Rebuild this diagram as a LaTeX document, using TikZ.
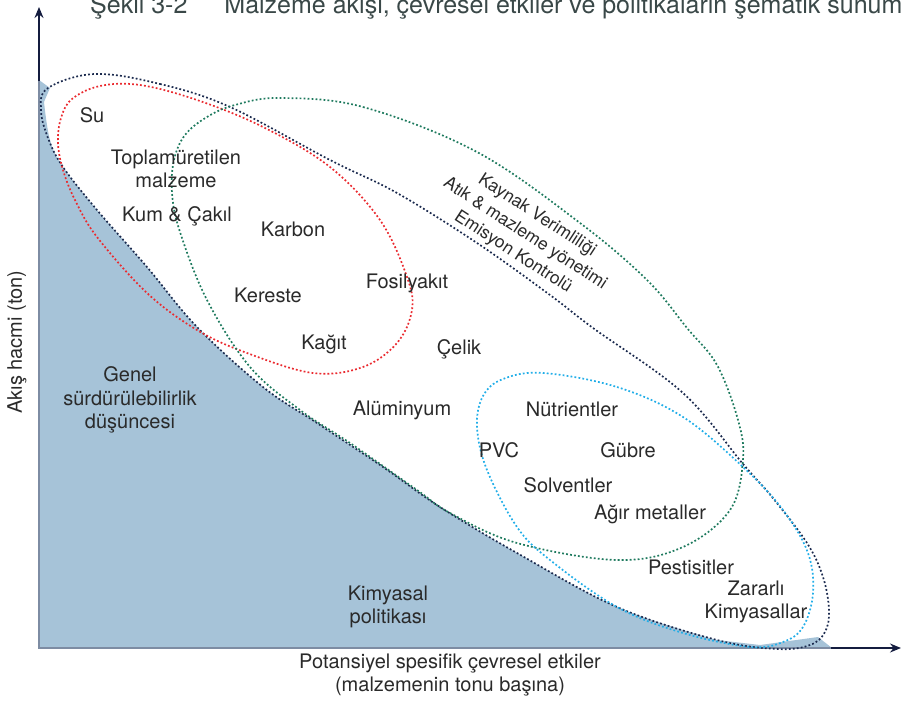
\documentclass[tikz,border=0pt]{standalone}
\usepackage{fontspec}
\setmainfont{TeX Gyre Heros}
\usetikzlibrary{arrows.meta}

\definecolor{fillblue}{HTML}{A6C3D8}
\definecolor{axisnavy}{HTML}{141C3F}
\definecolor{axisgray}{HTML}{7D8CA3}
\definecolor{navyline}{HTML}{1B2A4E}
\definecolor{redline}{HTML}{EA2A2F}
\definecolor{greenline}{HTML}{1E7A5E}
\definecolor{cyanline}{HTML}{22AEE8}
\definecolor{labeltext}{HTML}{2A2A2A}
\definecolor{titletext}{HTML}{3A4848}

\begin{document}
\begin{tikzpicture}[x=1pt,y=-1pt,
  dotline/.style={line width=1.7pt, dash pattern=on 1.8pt off 2.2pt},
  lbl/.style={text=labeltext, font=\fontsize{20}{23.5}\selectfont, align=center, inner sep=0pt},
  axisarrow/.style={draw=axisnavy, line width=1.6pt, -{Stealth[length=11pt,width=9pt]}}]

\useasboundingbox (0,0) rectangle (901,711);

% shaded region under the envelope
\fill[fillblue] (39,80) -- (50,88) -- plot[smooth, tension=0.6] coordinates {(44,102) (50,140) (63,167) (97,210) (147,267) (197,327) (263,387) (317,423) (383,467) (440,507) (517,553) (617,607) (717,640)} -- (760,645) -- (818,637) -- (832,648) -- (39,648) -- cycle;
\draw[axisgray, line width=1.6pt] (39,80) -- (39,648) -- (832,648);

% axes
\coordinate (ybase) at (39,81);
\coordinate (ytip) at (39,7);
\coordinate (xbase) at (831,648);
\coordinate (xtip) at (901,648);
\draw[axisarrow] (ybase) -- (ytip);
\draw[axisarrow] (xbase) -- (xtip);

% policy envelopes
\draw[dotline, navyline] plot[smooth cycle, tension=0.6] coordinates {
  (95,74) (160,84) (230,107) (330,160) (397,193) (477,243) (550,295) (593,328)
  (683,393) (743,464) (772,497) (807,543) (823,577) (829,610) (825,632) (810,645)
  (778,649) (717,640) (617,607) (517,553) (440,507) (383,467) (317,423) (263,387)
  (197,327) (147,267) (97,210) (63,167) (48,138) (41,110) (48,88)};
\draw[dotline, redline] plot[smooth cycle, tension=0.6] coordinates {
  (100,86) (140,85) (197,100) (263,127) (330,167) (380,220) (407,277) (412,310)
  (397,343) (363,367) (313,373) (247,353) (197,330) (147,293) (97,237) (75,200)
  (63,170) (58,143) (61,118) (72,99)};
\draw[dotline, greenline] plot[smooth cycle, tension=0.6] coordinates {
  (280,98) (363,107) (477,152) (580,223) (647,280) (687,328) (717,365) (738,420)
  (743,460) (730,510) (683,547) (617,560) (517,543) (450,513) (417,490) (350,443)
  (300,410) (250,367) (207,300) (180,232) (172,193) (174,160) (185,135) (207,117)
  (235,105)};
\draw[dotline, cyanline] plot[smooth cycle, tension=0.6] coordinates {
  (543,373) (617,387) (683,417) (743,467) (783,510) (808,553) (813,593) (803,627)
  (783,642) (750,647) (683,633) (617,607) (550,560) (517,527) (487,470) (477,427)
  (483,396) (503,379)};

% labels
\node[lbl] (su) at (92,115) {Su};
\node[lbl] (toplam) at (176,169) {Toplamüretilen\\malzeme};
\node[lbl] (kum) at (177,216) {Kum \& Çakıl};
\node[lbl] (karbon) at (293,229) {Karbon};
\node[lbl] (kereste) at (268,295) {Kereste};
\node[lbl] (fosil) at (407,283) {Fosilyakıt};
\node[lbl] (kagit) at (324,344) {Kağıt};
\node[lbl] (celik) at (459,349) {Çelik};
\node[lbl] (genel) at (130,400) {Genel\\sürdürülebilirlik\\düşüncesi};
\node[lbl] (alum) at (402,410) {Alüminyum};
\node[lbl] (kimpol) at (388,607) {Kimyasal\\politikası};
\node[lbl] (nutri) at (572,409) {Nütrientler};
\node[lbl] (pvc) at (499,450) {PVC};
\node[lbl] (gubre) at (628,450) {Gübre};
\node[lbl] (solv) at (568,485) {Solventler};
\node[lbl] (agir) at (650,514) {Ağır metaller};
\node[lbl] (pest) at (691,567) {Pestisitler};
\node[lbl] (zarar) at (756,602) {Zararlı\\Kimyasallar};
\node[lbl, rotate=-33, font=\fontsize{17.5}{22}\selectfont] (policies) at (525,234)
  {Kaynak Verimliliği\\Atık \& mazleme yönetimi\\Emisyon Kontrolü};

% axis titles
\node[lbl, rotate=90] (ylabel) at (17,342) {Akış hacmi (ton)};
\node[lbl] (xlabel) at (450,675) {Potansiyel spesifik çevresel etkiler\\(malzemenin tonu başına)};

% figure caption
\node[anchor=base west, inner sep=0pt, text=titletext, font=\fontsize{25}{30}\selectfont] (title) at (90,14)
  {Şekil 3-2\hspace{37pt}Malzeme akışı, çevresel etkiler ve politikaların şematik sunumu};
\end{tikzpicture}
\end{document}
